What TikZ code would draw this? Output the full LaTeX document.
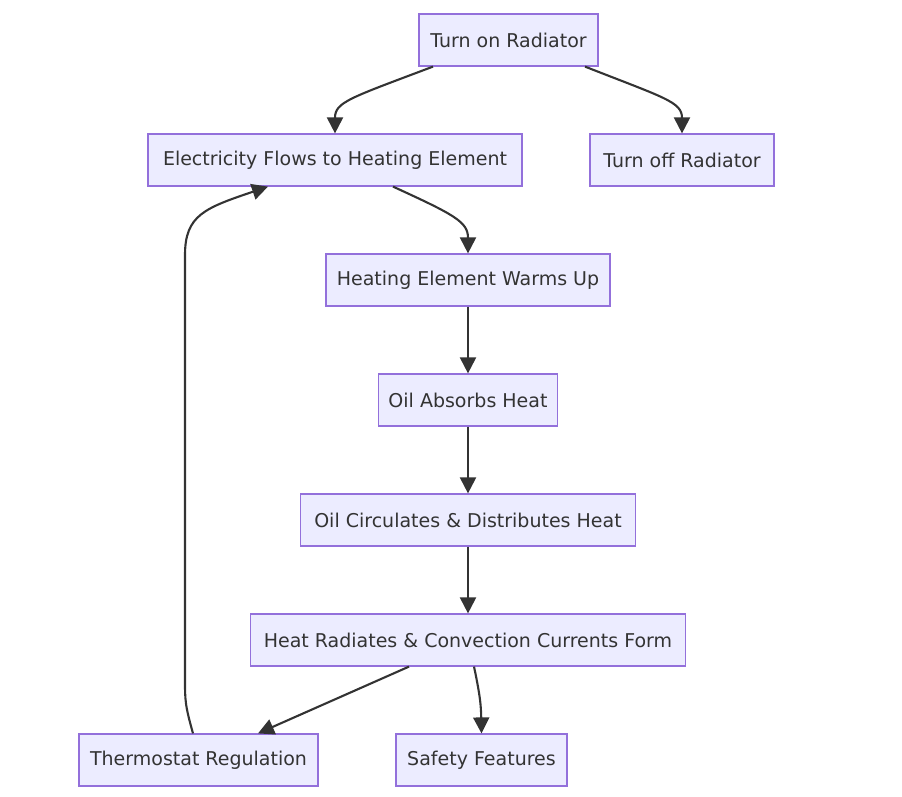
\documentclass[tikz,border=0pt]{standalone}
\usepackage{fontspec}
\setmainfont{DejaVu Sans}
\usepackage{tikz}
\usetikzlibrary{arrows.meta}
\usetikzlibrary{positioning}

\definecolor{boxfill}{HTML}{ECECFF}
\definecolor{boxline}{HTML}{9370DB}
\definecolor{linkcol}{HTML}{333333}

\tikzset{
  stepbox/.style={draw=boxline, fill=boxfill, line width=1.2pt, rectangle,
    minimum height=52pt, inner xsep=8pt, text=linkcol,
    font=\fontsize{19}{22}\selectfont},
  link/.style={draw=linkcol, line width=2.1pt,
    -{Triangle[length=16pt,width=16pt]}}
}

\begin{document}
\begin{tikzpicture}[x=1pt, y=-1pt]
    \useasboundingbox (0,0) rectangle (902,797); % page size of the reference

        % Nodes
        \node [stepbox, minimum width=179pt] (On) at (508.5,40) {Turn on Radiator};
        \node [stepbox, minimum width=374pt] (Elec) at (335,160) {Electricity Flows to Heating Element};
        \node [stepbox, minimum width=184pt] (Off) at (682,160) {Turn off Radiator};
        \node [stepbox, minimum width=284pt] (Warm) at (468,280) {Heating Element Warms Up};
        \node [stepbox, minimum width=179pt] (Absorb) at (468,400) {Oil Absorbs Heat};
        \node [stepbox, minimum width=335pt] (Circ) at (468,520) {Oil Circulates \& Distributes Heat};
        \node [stepbox, minimum width=435pt] (Rad) at (468,640) {Heat Radiates \& Convection Currents Form};
        \node [stepbox, minimum width=239pt] (Thermo) at (198.5,760) {Thermostat Regulation};
        \node [stepbox, minimum width=171pt] (Safe) at (481.5,760) {Safety Features};

        % Connections (Arrows)
        \draw [link] ([xshift=-75.5pt]On.south) .. controls (350,98) and (335,102) .. (Elec.north); % Turn on to heating
        \draw [link] ([xshift=76.5pt]On.south) .. controls (665,98) and (682,102) .. (Off.north); % Turn on to off
        \draw [link] ([xshift=58pt]Elec.south) .. controls (455,215) and (468,222) .. (Warm.north); % Current to element
        \draw [link] (Warm) -- (Absorb);
        \draw [link] (Absorb) -- (Circ);
        \draw [link] (Circ) -- (Rad);
        \draw [link] ([xshift=-59pt]Rad.south) -- ([xshift=59.5pt]Thermo.north); % Radiates to thermostat
        \draw [link] ([xshift=6pt]Rad.south) .. controls (480,695) and (481,705) .. (Safe.north); % Radiates to safety

        % Feedback loop
        \draw [link] ([xshift=-5.5pt]Thermo.north) .. controls (185,705) and (185,700) .. (185,680)
            -- (185,255) .. controls (185,215) and (205,208) .. ([xshift=-67pt]Elec.south); % Thermostat back to current

    \end{tikzpicture}
\end{document}
